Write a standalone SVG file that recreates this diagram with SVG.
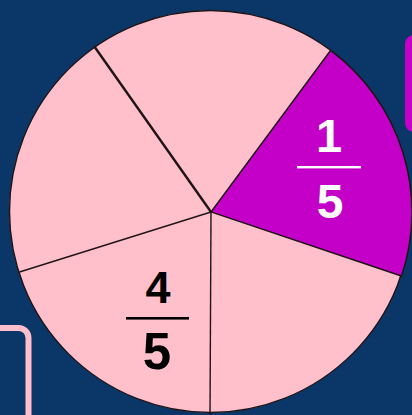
<svg xmlns="http://www.w3.org/2000/svg" width="412" height="415" viewBox="0 0 412 415">
<style>
.spoke{stroke:#1e1418;stroke-width:1.4;fill:none}
.num{font-family:"Liberation Sans",Arial,sans-serif;font-weight:bold;text-anchor:middle}
</style>
<rect width="412" height="415" fill="#0a3767"/>
<g id="side-tab">
<rect x="405" y="35" width="30" height="97" rx="9" fill="#c400c8"/>
</g>
<g id="corner-box">
<rect x="-40" y="328" width="68.5" height="120" rx="10" fill="none" stroke="#ffc0cb" stroke-width="6"/>
</g>
<g id="pie">
<circle cx="210.5" cy="211.5" r="201" fill="#ffc0cb" stroke="#1e1418" stroke-width="1.4"/>
<path d="M211 212 L330.5 50.5 A201 201 0 0 1 401.5 276 Z" fill="#c400c8" stroke="#1e1418" stroke-width="1.4"/>
</g>
<g id="connectors">
<line class="spoke" x1="211" y1="212" x2="94" y2="46" style="stroke-width:2.4"/>
<line class="spoke" x1="211" y1="212" x2="19.5" y2="272"/>
<line class="spoke" x1="211" y1="212" x2="210" y2="415"/>
</g>
<g id="label-one-fifth">
<text class="num" x="329" y="152" font-size="47" fill="#ffffff">1</text>
<rect x="297" y="166" width="64" height="2.4" fill="#ffffff"/>
<text class="num" x="330" y="218" font-size="48" fill="#ffffff">5</text>
</g>
<g id="label-four-fifths">
<text class="num" x="158" y="303" font-size="45" fill="#000000">4</text>
<rect x="126" y="317" width="63" height="2.6" fill="#000000"/>
<text class="num" x="157" y="369" font-size="51" fill="#000000">5</text>
</g>
</svg>
